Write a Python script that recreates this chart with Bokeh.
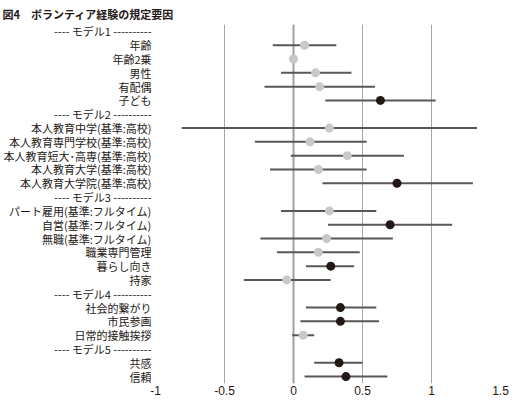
from bokeh.plotting import figure
from bokeh.models import FactorRange, Range1d, FixedTicker, NumeralTickFormatter, ColumnDataSource
from bokeh.embed import file_html
from bokeh.resources import INLINE

# rows from top to bottom; model headers carry no values
rows = [
    "---- モデル1 ----------",
    "年齢", "年齢2乗", "男性", "有配偶", "子ども",
    "---- モデル2 ----------",
    "本人教育中学(基準:高校)", "本人教育専門学校(基準:高校)", "本人教育短大･高専(基準:高校)",
    "本人教育大学(基準:高校)", "本人教育大学院(基準:高校)",
    "---- モデル3 ----------",
    "パート雇用(基準:フルタイム)", "自営(基準:フルタイム)", "無職(基準:フルタイム)",
    "職業専門管理", "暮らし向き", "持家",
    "---- モデル4 ----------",
    "社会的繋がり", "市民参画", "日常的接触挨拶",
    "---- モデル5 ----------",
    "共感", "信頼",
]
estimates = [None, 0.08, 0.0, 0.16, 0.19, 0.63,
             None, 0.26, 0.12, 0.39, 0.18, 0.75,
             None, 0.26, 0.70, 0.24, 0.18, 0.27, -0.05,
             None, 0.34, 0.34, 0.07,
             None, 0.33, 0.38]
lower = [None, -0.15, -0.005, -0.09, -0.21, 0.23,
         None, -0.81, -0.28, -0.02, -0.17, 0.21,
         None, -0.09, 0.25, -0.24, -0.12, 0.09, -0.36,
         None, 0.09, 0.05, -0.01,
         None, 0.15, 0.08]
upper = [None, 0.31, 0.005, 0.42, 0.59, 1.03,
         None, 1.33, 0.53, 0.80, 0.53, 1.30,
         None, 0.60, 1.15, 0.72, 0.48, 0.44, 0.27,
         None, 0.60, 0.62, 0.15,
         None, 0.50, 0.68]
significant = [None, False, False, False, False, True,
               None, False, False, False, False, True,
               None, False, True, False, False, True, False,
               None, True, True, False,
               None, True, True]
x_ticks = [-1, -0.5, 0, 0.5, 1, 1.5]

keep = [i for i, e in enumerate(estimates) if e is not None]
src = ColumnDataSource(dict(
    y=[rows[i] for i in keep],
    est=[estimates[i] for i in keep],
    lo=[lower[i] for i in keep],
    hi=[upper[i] for i in keep],
    color=["#231815" if significant[i] else "#c8c8c8" for i in keep],
))

p = figure(width=514, height=399, output_backend="svg", toolbar_location=None,
           y_range=FactorRange(factors=list(reversed(rows))),
           x_range=Range1d(-1, 1.5),
           min_border_left=153, min_border_right=14, min_border_top=19, min_border_bottom=16)

p.title.text = "図4　ボランティア経験の規定要因"
p.title.text_font = "Noto Sans CJK JP"
p.title.text_font_size = "11px"
p.title.text_font_style = "bold"
p.title.text_color = "#231815"
p.title.align = "left"
p.title.offset = -153
p.title.standoff = 6

p.outline_line_color = None
p.background_fill_color = "white"

p.xgrid.grid_line_color = "#a6a6a6"
p.xgrid.grid_line_width = 1
p.ygrid.grid_line_color = None
p.xaxis.ticker = FixedTicker(ticks=x_ticks)
p.xaxis.formatter = NumeralTickFormatter(format="0.[0]")
p.xaxis.axis_line_color = None
p.xaxis.major_tick_line_color = None
p.xaxis.minor_tick_line_color = None
p.xaxis.major_tick_out = 0
p.xaxis.major_tick_in = 0
p.xaxis.major_label_standoff = 2
p.xaxis.major_label_text_font = "Liberation Sans"
p.xaxis.major_label_text_font_size = "12px"
p.xaxis.major_label_text_color = "#231815"

p.yaxis.axis_line_color = None
p.yaxis.major_tick_line_color = None
p.yaxis.minor_tick_line_color = None
p.yaxis.major_tick_out = 0
p.yaxis.major_tick_in = 0
p.yaxis.major_label_standoff = 4
p.yaxis.major_label_text_font = "Noto Sans CJK JP"
p.yaxis.major_label_text_font_size = "11px"
p.yaxis.major_label_text_color = "#231815"

# thicker zero line
p.segment(x0=0, x1=0, y0=0, y1=len(rows), line_color="#a0a0a0", line_width=2)

p.segment(x0="lo", x1="hi", y0="y", y1="y", source=src, line_color="#595757", line_width=2)
p.scatter(x="est", y="y", source=src, size=9, fill_color="color", line_color=None)

open("out.html", "w").write(file_html(p, INLINE))
